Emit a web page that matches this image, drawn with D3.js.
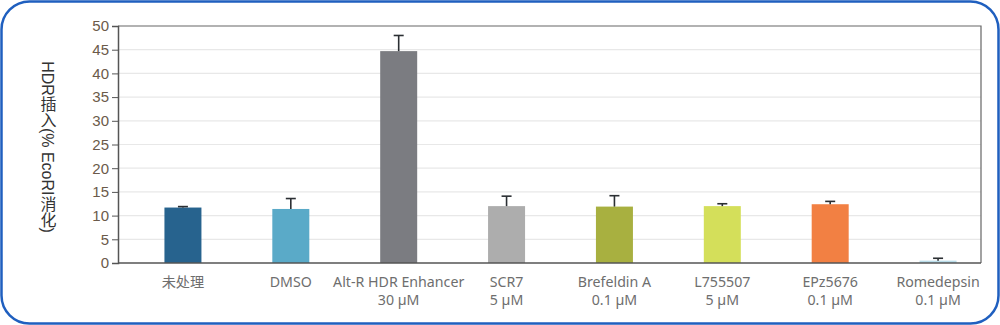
<!DOCTYPE html>
<html><head><meta charset="utf-8">
<script src="https://cdn.jsdelivr.net/npm/d3@7"></script>
<style>body{margin:0;background:#fff;}svg{display:block;}</style>
</head><body>
<svg id="c" width="1000" height="325"></svg>
<script>
const categories = ["未处理","DMSO","Alt-R HDR Enhancer","SCR7","Brefeldin A","L755507","EPz5676","Romedepsin"];
const subLabels = ["","","30 µM","5 µM","0.1 µM","5 µM","0.1 µM","0.1 µM"];
const values = [11.7, 11.4, 44.7, 12.0, 11.9, 12.0, 12.4, 0.5];
const errors = [0.2, 2.2, 3.3, 2.1, 2.3, 0.5, 0.6, 0.5];
const colors = ["#27638e","#5aaac8","#7b7c81","#adadad","#a8b040","#d4df5a","#f28043","#b9dce9"];
const yTicks = [0,5,10,15,20,25,30,35,40,45,50];
const yTitle = "HDR插入(% EcoRI消化)";

const svg = d3.select("#c");
svg.append("rect").attr("x",1.5).attr("y",1.5).attr("width",997).attr("height",322)
  .attr("rx",28).attr("fill","#fff").attr("stroke","#1f5fbf").attr("stroke-width",2.5);

const L=118, R=981, T=26, B=263;
const x = d3.scaleBand().domain(categories).range([129,992]);
const barW = x.step()*0.343;
const cxOf = c => x(c) + x.step()/2;
const y = d3.scaleLinear().domain([0,50]).range([B,T]);

// gridlines
svg.append("g").selectAll("line").data(yTicks.filter(d=>d>0 && d<50)).join("line")
  .attr("x1",L).attr("x2",R).attr("y1",d=>y(d)).attr("y2",d=>y(d))
  .attr("stroke","#e8e8e8").attr("stroke-width",1.2);

// plot frame top/right
svg.append("path").attr("d",`M${L},${T}H${R}V${B}`).attr("fill","none").attr("stroke","#666").attr("stroke-width",1.2);

// bars
svg.append("g").selectAll("rect").data(values).join("rect")
  .attr("x",(d,i)=>cxOf(categories[i])-barW/2).attr("width",barW)
  .attr("y",d=>y(d)).attr("height",d=>B-y(d))
  .attr("fill",(d,i)=>colors[i]);

// error bars
const eg = svg.append("g").attr("stroke","#2b2f33").attr("stroke-width",1.6);
values.forEach((v,i)=>{
  const cx = cxOf(categories[i]);
  eg.append("line").attr("x1",cx).attr("x2",cx).attr("y1",y(v)).attr("y2",y(v+errors[i]));
  eg.append("line").attr("x1",cx-5).attr("x2",cx+5).attr("y1",y(v+errors[i])).attr("y2",y(v+errors[i]));
});

// y axis
const ya = svg.append("g").attr("transform",`translate(${L},0)`)
  .call(d3.axisLeft(y).tickValues(yTicks).tickSize(6).tickPadding(3));
ya.select(".domain").attr("stroke","#555").attr("stroke-width",1.5);
ya.selectAll(".tick line").attr("stroke","#555");
ya.selectAll("text").attr("fill","#6b5a4a").style("font-family","'Liberation Sans', Arial, sans-serif").style("font-size","15px");

// x axis line
svg.append("line").attr("x1",L).attr("x2",R).attr("y1",B).attr("y2",B).attr("stroke","#555").attr("stroke-width",1.5);

// x labels
const xl = svg.append("g").style("font-family","'Noto Sans', 'Noto Sans CJK SC', sans-serif").style("font-size","14.2px").attr("fill","#6e6e6e").attr("text-anchor","middle");
categories.forEach((c,i)=>{
  const cx = cxOf(c);
  xl.append("text").attr("x",cx).attr("y",287).text(c);
  if(subLabels[i]) xl.append("text").attr("x",cx).attr("y",305).text(subLabels[i]);
});

// y title (vertical writing)
svg.append("text").attr("x",47).attr("y",147).attr("text-anchor","middle")
  .style("writing-mode","vertical-rl").style("text-orientation","mixed")
  .style("font-family","'Liberation Sans', 'Noto Sans CJK SC', sans-serif").style("font-size","16px").attr("fill","#333")
  .text(yTitle);
</script>
</body></html>
